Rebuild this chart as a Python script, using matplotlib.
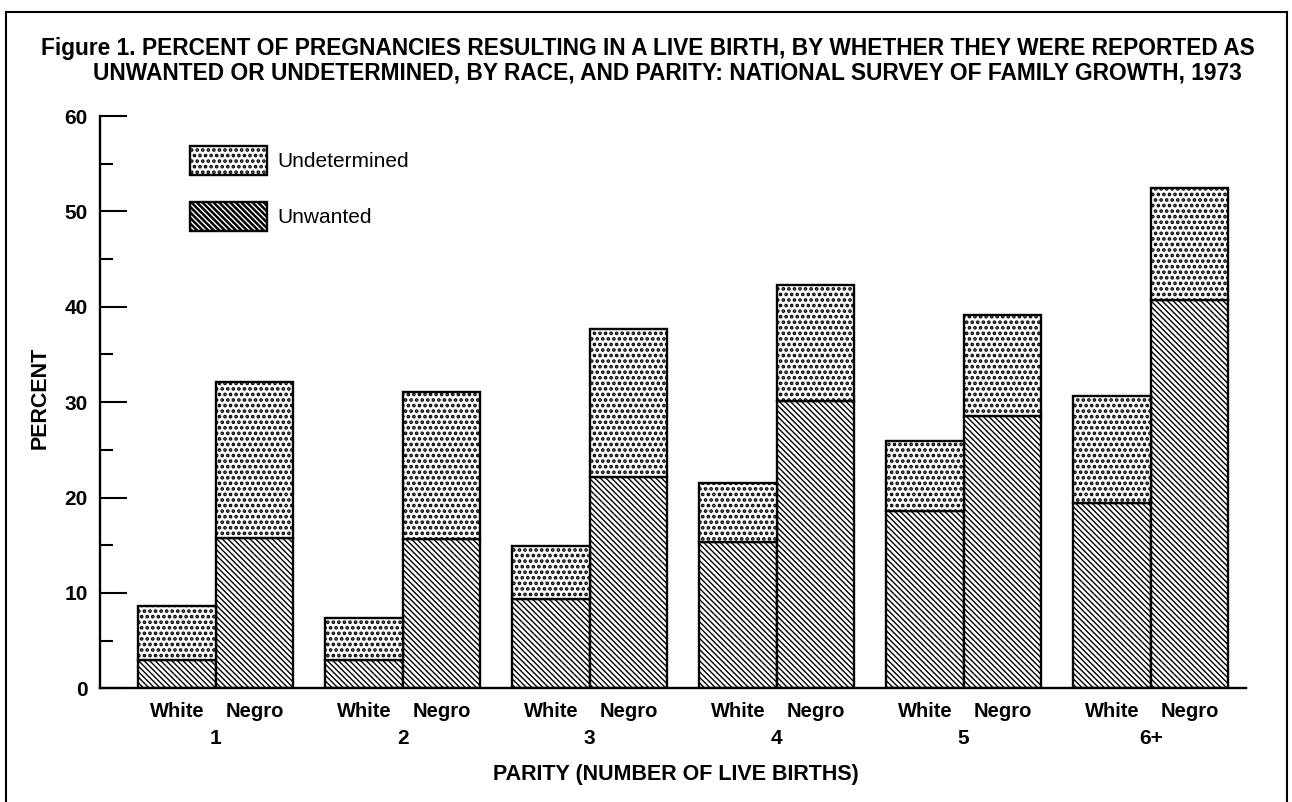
import matplotlib
matplotlib.use("Agg")
import matplotlib.pyplot as plt
from matplotlib.patches import Patch
from matplotlib.lines import Line2D
import numpy as np

# ---- data ----
parity = ["1", "2", "3", "4", "5", "6+"]
races = ["White", "Negro"]
white_unwanted = [3.0, 3.0, 9.4, 15.3, 18.6, 19.4]
white_undetermined = [5.6, 4.4, 5.5, 6.2, 7.3, 11.2]
negro_unwanted = [15.8, 15.7, 22.2, 30.1, 28.6, 40.7]
negro_undetermined = [16.3, 15.4, 15.5, 12.2, 10.5, 11.7]

title_line1 = "Figure 1. PERCENT OF PREGNANCIES RESULTING IN A LIVE BIRTH, BY WHETHER THEY WERE REPORTED AS"
title_line2 = "UNWANTED OR UNDETERMINED, BY RACE, AND PARITY: NATIONAL SURVEY OF FAMILY GROWTH, 1973"
ylabel = "PERCENT"
xlabel = "PARITY (NUMBER OF LIVE BIRTHS)"

plt.rcParams['font.family'] = ['Liberation Sans', 'DejaVu Sans']
W, H = 1292, 802
fig = plt.figure(figsize=(W / 100, H / 100), dpi=100)

ax = fig.add_axes([100 / W, 1 - 688.3 / H, (1245.7 - 100) / W, (688.3 - 116) / H])

x = np.arange(len(parity))
w = 0.413
xw = x - w / 2
xn = x + w / 2

unw_hatch = '\\' * 6
und_hatch = '...'

plt.rcParams['hatch.linewidth'] = 1.0
b1 = ax.bar(xw, white_unwanted, w, color='white', edgecolor='black', linewidth=1.7, hatch=unw_hatch)
b2 = ax.bar(xn, negro_unwanted, w, color='white', edgecolor='black', linewidth=1.7, hatch=unw_hatch)
plt.rcParams['hatch.linewidth'] = 1.8
b3 = ax.bar(xw, white_undetermined, w, bottom=white_unwanted, color='white', edgecolor='black',
            linewidth=1.7, hatch=und_hatch)
b4 = ax.bar(xn, negro_undetermined, w, bottom=negro_unwanted, color='white', edgecolor='black',
            linewidth=1.7, hatch=und_hatch)

ax.set_xlim((100 - 215.7) / 187.0, (100 - 215.7) / 187.0 + 1145.7 / 187.0)
ax.set_ylim(0, 60)

for s in ['top', 'right']:
    ax.spines[s].set_visible(False)
for s in ['left', 'bottom']:
    ax.spines[s].set_linewidth(1.7)

ax.set_yticks(np.arange(0, 61, 10))
ax.set_yticks(np.arange(5, 60, 10), minor=True)
ax.tick_params(axis='y', which='major', direction='in', length=19.5, width=1.5, pad=9,
               labelsize=15)
ax.tick_params(axis='y', which='minor', direction='in', length=9.5, width=1.5)
for t in ax.get_yticklabels():
    t.set_fontweight('bold')

# category tick labels
ax.set_xticks(list(xw) + list(xn))
ax.set_xticklabels([races[0]] * len(parity) + [races[1]] * len(parity), fontsize=14.5, fontweight='bold')
ax.tick_params(axis='x', length=0, pad=10)

for xi, p in zip(x, parity):
    ax.text(xi, -5.3, p, ha='center', va='center', fontsize=15, fontweight='bold',
            transform=ax.transData)

ax.text(2.46, -9.0, xlabel, ha='center', va='center', fontsize=15.5, fontweight='bold',
        transform=ax.transData, clip_on=False)
fig.text(40 / W, 1 - 398 / H, ylabel, rotation=90, ha='center', va='center', fontsize=15.5,
         fontweight='bold')

# legend
handles = [Patch(facecolor='white', edgecolor='black', linewidth=1.7, hatch=und_hatch, label='Undetermined'),
           Patch(facecolor='white', edgecolor='black', linewidth=1.7, hatch=unw_hatch, label='Unwanted')]
fs = 15
fpx = fs * 100 / 72
leg = ax.legend(handles=handles, loc='upper left', bbox_to_anchor=(190 / W, 1 - 146 / H),
                bbox_transform=fig.transFigure, frameon=False, borderpad=0, borderaxespad=0,
                handlelength=77 / fpx, handleheight=37 / fpx,
                labelspacing=(63.6 - 37) / fpx, handletextpad=10 / fpx, prop={'size': fs})

# title
fig.text(648 / W, 1 - 48 / H, title_line1, ha='center', va='center', fontsize=16.4, fontweight='bold')
fig.text(667 / W, 1 - 73 / H, title_line2, ha='center', va='center', fontsize=16.4, fontweight='bold')

# outer frame
frame_kw = dict(color='black', linewidth=1.5, transform=fig.transFigure)
fig.add_artist(Line2D([6 / W, 6 / W], [0, 1 - 12 / H], **frame_kw))
fig.add_artist(Line2D([6 / W, 1287 / W], [1 - 12 / H, 1 - 12 / H], **frame_kw))
fig.add_artist(Line2D([1287 / W, 1287 / W], [0, 1 - 12 / H], **frame_kw))

fig.savefig("out.png", dpi=100)
